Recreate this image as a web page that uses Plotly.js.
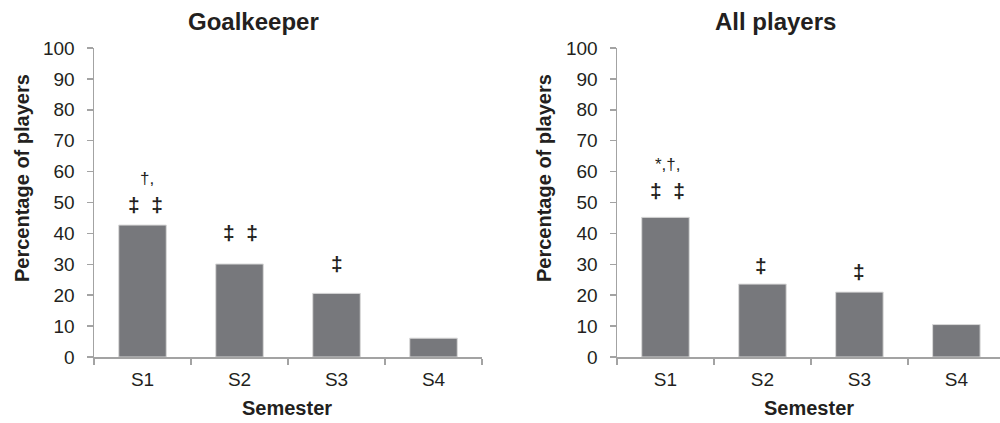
<!DOCTYPE html>
<html>
<head>
<meta charset="utf-8">
<script src="https://cdn.plot.ly/plotly-3.0.1.min.js"></script>
<style>html,body{margin:0;padding:0;background:#fff;}#chart{width:1000px;height:423px;}</style>
</head>
<body>
<div id="chart"></div>
<script>
// ---- data ----
const semesters = ["S1", "S2", "S3", "S4"];
const goalkeeperValues = [42.7, 30.1, 20.6, 6.1];
const allPlayersValues = [45.2, 23.6, 21.0, 10.5];
const goalkeeperSigTop = ["†,", "", "", ""];
const goalkeeperSigBottom = ["‡ ‡", "‡ ‡", "‡", ""];
const allPlayersSigTop = ["*,†,", "", "", ""];
const allPlayersSigBottom = ["‡ ‡", "‡", "‡", ""];
const panelTitles = ["Goalkeeper", "All players"];
const yTitle = "Percentage of players";
const xTitle = "Semester";
const yTicks = [0, 10, 20, 30, 40, 50, 60, 70, 80, 90, 100];

// ---- style ----
const FONT = "Liberation Sans, Arial, sans-serif";
const TXT = "#231f20";
const AX = "#a3a3a3";
const BAR = "#77787c";

function bar(vals, xa, ya) {
  return {
    type: "bar", x: semesters, y: vals, xaxis: xa, yaxis: ya,
    width: 0.49,
    marker: {color: BAR, line: {color: "#d9d9d9", width: 1}},
    hoverinfo: "none", showlegend: false
  };
}

function xaxis(domain, range) {
  return {
    domain: domain, type: "category", range: range,
    showline: true, linecolor: AX, linewidth: 1.5,
    ticks: "outside", tickson: "boundaries", ticklen: 6, tickcolor: AX, tickwidth: 1.5,
    tickfont: {family: FONT, size: 19, color: TXT},
    showgrid: false, zeroline: false, fixedrange: true, automargin: false,
    ticklabelstandoff: 5
  };
}
function yaxis(anchor) {
  return {
    domain: [0.156, 0.8865], range: [0, 100], anchor: anchor,
    tickmode: "array", tickvals: yTicks,
    showline: true, linecolor: AX, linewidth: 1.5,
    ticks: "outside", ticklen: 6, tickcolor: AX, tickwidth: 1.5,
    tickfont: {family: FONT, size: 19, color: TXT},
    showgrid: false, zeroline: false, fixedrange: true, automargin: false,
    ticklabelstandoff: 8
  };
}

const annotations = [];
// panel titles, axis titles
const titleX = [0.253, 0.775];
const yTitleX = [0.022, 0.544];
const xTitleX = [0.287, 0.809];
for (let i = 0; i < 2; i++) {
  annotations.push({xref: "paper", yref: "paper", x: titleX[i], y: 1 - 22/423, text: "<b>" + panelTitles[i] + "</b>",
    showarrow: false, xanchor: "center", yanchor: "middle", font: {family: FONT, size: 24, color: TXT}});
  annotations.push({xref: "paper", yref: "paper", x: yTitleX[i], y: 1 - 178/423, text: "<b>" + yTitle + "</b>",
    textangle: -90, showarrow: false, xanchor: "center", yanchor: "middle", font: {family: FONT, size: 20, color: TXT}});
  annotations.push({xref: "paper", yref: "paper", x: xTitleX[i], y: 1 - 408/423, text: "<b>" + xTitle + "</b>",
    showarrow: false, xanchor: "center", yanchor: "middle", font: {family: FONT, size: 20, color: TXT}});
}
// significance markers anchored at bar tops (pixel shifts are styling)
function sig(vals, top, bottom, xa, ya, shiftsBottom, shiftTop, xshifts) {
  for (let i = 0; i < semesters.length; i++) {
    if (bottom[i]) annotations.push({xref: xa, yref: ya, x: semesters[i], y: vals[i],
      text: "<b>" + bottom[i].split(" ").join("\u00a0\u00a0") + "</b>",
      showarrow: false, yanchor: "middle", yshift: shiftsBottom[i], xshift: xshifts[i],
      font: {family: FONT, size: 21, color: TXT}});
    if (top[i]) annotations.push({xref: xa, yref: ya, x: semesters[i], y: vals[i], text: top[i],
      showarrow: false, yanchor: "middle", yshift: shiftTop, xshift: xshifts[i] + 1,
      font: {family: FONT, size: 17, color: TXT}});
  }
}
sig(goalkeeperValues, goalkeeperSigTop, goalkeeperSigBottom, "x", "y", [21, 32, 30, 0], 47, [3, 1, 0, 0]);
sig(allPlayersValues, allPlayersSigTop, allPlayersSigBottom, "x2", "y2", [27, 19, 21, 0], 53, [2, -1, 0, 0]);

const layout = {
  width: 1000, height: 423,
  margin: {l: 0, r: 0, t: 0, b: 0},
  paper_bgcolor: "#fff", plot_bgcolor: "#fff",
  bargap: 0.5,
  xaxis: xaxis([0.094, 0.482], [-0.5, 3.5]),
  yaxis: yaxis("x"),
  xaxis2: Object.assign(xaxis([0.617, 1.0], [-0.5, 3.45]), {anchor: "y2"}),
  yaxis2: yaxis("x2"),
  annotations: annotations
};
layout.xaxis.anchor = "y";

Plotly.newPlot("chart", [bar(goalkeeperValues, "x", "y"), bar(allPlayersValues, "x2", "y2")], layout, {displayModeBar: false, staticPlot: true});
</script>
</body>
</html>
